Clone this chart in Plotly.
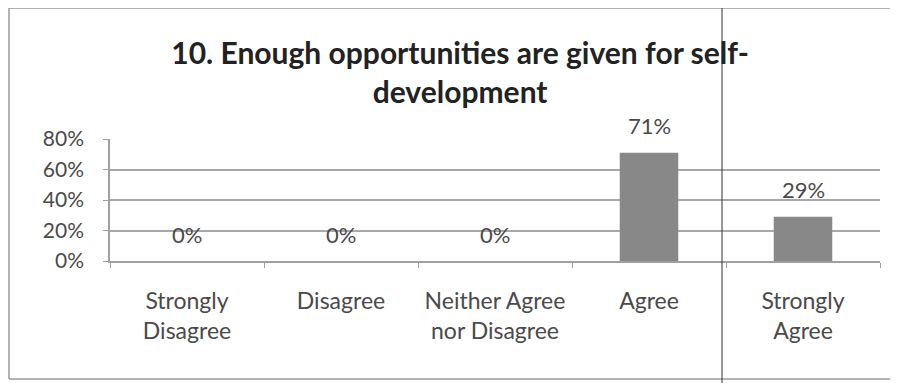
import plotly.graph_objects as go

categories = ["Strongly<br>Disagree", "Disagree", "Neither Agree<br>nor Disagree", "Agree", "Strongly<br>Agree"]
shares = [0.0, 0.0, 0.0, 0.71, 0.29]
share_labels = ["0%", "0%", "0%", "71%", "29%"]
y_ticks = [0, 0.2, 0.4, 0.6, 0.8]
y_tick_labels = ["0%", "20%", "40%", "60%", "80%"]

# the page body has an 8px margin, so the figure is a bit smaller than the window
W, H = 890, 375
L, R, T, B = 102, 18, 131, 122
pw, ph = W - L - R, H - T - B


def px_x(p):
    return (p - L) / pw


def px_y(p):
    return (H - B - p) / ph


font_family = "Lato, Open Sans, sans-serif"
label_color = "#4a4a4a"
frame = dict(color="#9a9a9a", width=1.5)

fig = go.Figure(
    go.Bar(
        x=categories,
        y=shares,
        width=0.38,
        marker=dict(color="#888888", line=dict(width=0)),
        hoverinfo="skip",
    )
)

for cat, val, lab in zip(categories, shares, share_labels):
    fig.add_annotation(
        x=cat, y=val, text=lab, showarrow=False, yshift=27,
        font=dict(size=22, color=label_color, family=font_family),
    )

fig.update_layout(
    width=W,
    height=H,
    margin=dict(l=L, r=R, t=T, b=B),
    paper_bgcolor="white",
    plot_bgcolor="white",
    showlegend=False,
    font=dict(family=font_family, size=22, color=label_color),
    title=dict(
        text="<b>10. Enough opportunities are given for self-<br>development</b>",
        x=0.508, xanchor="center", xref="container",
        y=1 - 56 / H, yanchor="middle", yref="container",
        font=dict(size=30, color="#222222", family=font_family),
    ),
    shapes=[
        # scanned chart frame: top, left, bottom (right side runs off the page)
        dict(type="line", xref="paper", yref="paper",
             x0=px_x(1), x1=px_x(890), y0=px_y(0), y1=px_y(0), line=frame),
        dict(type="line", xref="paper", yref="paper",
             x0=px_x(1), x1=px_x(1), y0=px_y(0), y1=px_y(371), line=frame),
        dict(type="line", xref="paper", yref="paper",
             x0=px_x(1), x1=px_x(890), y0=px_y(371), y1=px_y(371), line=frame),
        # fold line from the scan
        dict(type="line", xref="paper", yref="paper",
             x0=px_x(714), x1=px_x(714), y0=px_y(380), y1=px_y(-10),
             line=dict(color="#333333", width=1)),
    ],
)

fig.update_xaxes(
    showline=True, linecolor="#a0a0a0", linewidth=1.5,
    ticks="outside", tickson="boundaries", ticklen=5, tickcolor="#a0a0a0",
    ticklabelstandoff=19,
    tickfont=dict(size=23, color=label_color),
)
fig.update_yaxes(
    range=[0, 0.8], tickvals=y_ticks, ticktext=y_tick_labels,
    showgrid=True, gridcolor="#a8a8a8", gridwidth=1.5,
    showline=True, linecolor="#a0a0a0", linewidth=1.5,
    ticks="outside", ticklen=5, tickcolor="#a0a0a0",
    ticklabelstandoff=15, zeroline=False,
    tickfont=dict(size=21, color=label_color),
)

fig.write_html("out.html")
